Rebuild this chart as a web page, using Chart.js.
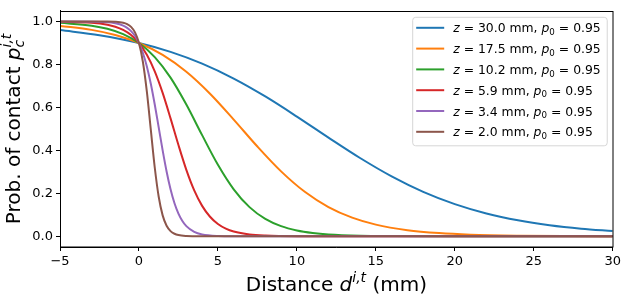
<!DOCTYPE html>
<html><head><meta charset="utf-8">
<script src="https://cdn.jsdelivr.net/npm/chart.js@4"></script>
<style>html,body{margin:0;padding:0;background:#fff}canvas{display:block}</style>
</head><body>
<canvas id="c" width="624" height="296"></canvas>
<script>
// ---- data ----
const zValues = [30.0, 17.5, 10.2, 5.9, 3.4, 2.0];
const p0Value = 0.95;
const xTicks = [-5, 0, 5, 10, 15, 20, 25, 30];
const yTicks = [0.0, 0.2, 0.4, 0.6, 0.8, 1.0];

const dist30 = [-5,-2.5,0,2,4,6,8,10,12,14,16,18,20,22,24,26,28,30];
const prob30 = [0.9601,0.9364,0.9,0.8587,0.8039,0.7344,0.6511,0.5574,0.4594,0.3645,0.2790,0.2070,0.1498,0.1063,0.0743,0.0514,0.0353,0.0241];

const dist175 = [-5,-3,-1.5,0,1.5,3,4.5,6,7.5,9,10.5,12,13.5,15,17,19,21,24,27,30];
const prob175 = [0.9798,0.9612,0.9372,0.9,0.8444,0.7660,0.6638,0.5435,0.4179,0.3022,0.2070,0.1360,0.0867,0.0542,0.0284,0.0147,0.0075,0.0028,0.0010,0.0004];

const dist102 = [-5,-3,-2,-1,0,1,2,3,4,5,6,7,8,9,10,11,12,14,16,20,25,30];
const prob102 = [0.9939,0.9808,0.9662,0.9413,0.9,0.8346,0.7389,0.6135,0.4709,0.3329,0.2187,0.1357,0.0809,0.0470,0.0269,0.0153,0.0086,0.0027,0.0009,0.0001,0,0];

const dist59 = [-5,-3,-2,-1.5,-1,-0.5,0,0.5,1,1.5,2,2.5,3,3.5,4,4.5,5,5.5,6,7,8,10,15,30];
const prob59 = [0.9993,0.9945,0.9852,0.9758,0.9607,0.9369,0.9,0.8452,0.7681,0.6676,0.5491,0.4249,0.3094,0.2137,0.1415,0.0909,0.0572,0.0355,0.0218,0.0081,0.0030,0.0004,0,0];

const dist34 = [-5,-2,-1.5,-1,-0.75,-0.5,-0.25,0,0.25,0.5,0.75,1,1.25,1.5,1.75,2,2.25,2.5,2.75,3,3.5,4,5,6,30];
const prob34 = [1.0,0.9966,0.9918,0.9808,0.9707,0.9554,0.9328,0.9,0.8536,0.7908,0.7101,0.6135,0.5070,0.3999,0.3016,0.2187,0.1535,0.1052,0.0708,0.0470,0.0203,0.0086,0.0015,0.0003,0];

const dist20 = [-5,-2,-1.5,-1,-0.75,-0.5,-0.25,0,0.25,0.5,0.75,1,1.25,1.5,1.75,2,2.25,2.5,3,3.5,4,30];
const prob20 = [1.0,0.9997,0.9987,0.9942,0.9880,0.9752,0.9495,0.9,0.8115,0.6731,0.4962,0.3202,0.1839,0.0973,0.0490,0.0241,0.0117,0.0056,0.0013,0.0003,0,0];

// ---- styling ----
const colors = ['#1f77b4','#ff7f0e','#2ca02c','#d62728','#9467bd','#8c564b'];
const FONT = '"DejaVu Sans", sans-serif';
const TICK_SIZE = 13, LEGEND_SIZE = 12.4, TITLE_SIZE = 20;

const series = [
  {d: dist30, p: prob30}, {d: dist175, p: prob175}, {d: dist102, p: prob102},
  {d: dist59, p: prob59}, {d: dist34, p: prob34}, {d: dist20, p: prob20}
];

const datasets = zValues.map((z, i) => ({
  label: `z = ${z.toFixed(1)} mm, p\u2080 = ${p0Value.toFixed(2)}`,
  data: series[i].d.map((x, j) => ({x: x, y: series[i].p[j]})),
  borderColor: colors[i],
  backgroundColor: colors[i],
  borderWidth: 2,
  pointRadius: 0,
  fill: false,
  cubicInterpolationMode: 'monotone',
  order: zValues.length - i
}));

function fontStr(r, size) {
  const fs = size * (r.s || 1);
  return `${r.it ? 'italic ' : ''}${fs}px ${FONT}`;
}
function runsWidth(ctx, runs, size) {
  let w = 0;
  for (const r of runs) {
    ctx.font = fontStr(r, size);
    if (!r.noAdv) w += ctx.measureText(r.t).width;
  }
  return w;
}
function drawRuns(ctx, runs, x, y, size) {
  let cx = x;
  for (const r of runs) {
    ctx.font = fontStr(r, size);
    ctx.fillText(r.t, cx, y + (r.dy || 0) * size);
    if (!r.noAdv) cx += ctx.measureText(r.t).width;
  }
}

const decorPlugin = {
  id: 'decor',
  afterDraw(chart) {
    const ctx = chart.ctx;
    const a = chart.chartArea;
    ctx.save();
    // frame
    ctx.strokeStyle = '#000';
    ctx.lineWidth = 1;
    ctx.strokeRect(Math.round(a.left) + 0.5, Math.round(a.top) + 0.5,
                   Math.round(a.right - a.left) - 1 + 0.5, Math.round(a.bottom - a.top) - 0.5);
    ctx.fillStyle = '#000';
    ctx.textAlign = 'left';
    ctx.textBaseline = 'alphabetic';

    // x title
    const xRuns = [{t: 'Distance '}, {t: 'd', it: true}, {t: 'i,t', it: true, s: 0.7, dy: -0.42}, {t: ' (mm)'}];
    const xw = runsWidth(ctx, xRuns, TITLE_SIZE);
    drawRuns(ctx, xRuns, (a.left + a.right) / 2 - xw / 2, 290.5, TITLE_SIZE);

    // y title
    const yRuns = [{t: 'Prob. of contact '}, {t: 'p', it: true},
                   {t: 'c', it: true, s: 0.7, dy: 0.22, noAdv: true},
                   {t: 'i,t', it: true, s: 0.7, dy: -0.45}];
    const yw = runsWidth(ctx, yRuns, TITLE_SIZE);
    ctx.save();
    ctx.translate(20, (a.top + a.bottom) / 2);
    ctx.rotate(-Math.PI / 2);
    drawRuns(ctx, yRuns, -yw / 2, 0, TITLE_SIZE);
    ctx.restore();

    // legend
    const legRuns = zValues.map(z => [
      {t: 'z', it: true}, {t: ' = ' + z.toFixed(1) + ' mm, '},
      {t: 'p', it: true}, {t: '0', s: 0.7, dy: 0.22}, {t: ' = ' + p0Value.toFixed(2)}
    ]);
    let tw = 0;
    legRuns.forEach(r => { tw = Math.max(tw, runsWidth(ctx, r, LEGEND_SIZE)); });
    const bw = 4 + 28 + 9 + tw + 6;
    const rowH = 20.8;
    const bh = 11 + rowH * (zValues.length - 1) + 13.5;
    const bx = a.right - 6 - bw;
    const by = a.top + 6;
    ctx.beginPath();
    ctx.roundRect(bx + 0.5, by + 0.5, bw, bh, 3);
    ctx.fillStyle = 'rgba(255,255,255,0.8)';
    ctx.fill();
    ctx.strokeStyle = '#d6d6d6';
    ctx.lineWidth = 1;
    ctx.stroke();
    legRuns.forEach((runs, i) => {
      const cy = by + 11 + i * rowH;
      ctx.beginPath();
      ctx.strokeStyle = colors[i];
      ctx.lineWidth = 2;
      ctx.moveTo(bx + 4, cy);
      ctx.lineTo(bx + 32, cy);
      ctx.stroke();
      ctx.fillStyle = '#000';
      drawRuns(ctx, runs, bx + 41, cy + 4.5, LEGEND_SIZE);
    });
    ctx.restore();
  }
};

new Chart(document.getElementById('c'), {
  type: 'line',
  data: {datasets: datasets},
  options: {
    responsive: false,
    animation: false,
    devicePixelRatio: 1,
    layout: {padding: {left: 0, right: 10, top: 2, bottom: 0}},
    plugins: {legend: {display: false}, tooltip: {enabled: false}},
    scales: {
      x: {
        type: 'linear', min: -5, max: 30,
        afterBuildTicks: ax => { ax.ticks = xTicks.map(v => ({value: v})); },
        afterFit: s => { s.height = 49; },
        ticks: {
          callback: v => v < 0 ? '\u2212' + Math.abs(v) : String(v),
          font: {family: FONT, size: TICK_SIZE}, color: '#000',
          padding: 3, maxRotation: 0, autoSkip: false
        },
        grid: {drawOnChartArea: false, drawTicks: true, tickLength: 4, color: '#000', lineWidth: 1},
        border: {display: true, color: '#000', width: 1}
      },
      y: {
        type: 'linear', min: -0.05, max: 1.05,
        afterBuildTicks: ax => { ax.ticks = yTicks.map(v => ({value: v})); },
        afterFit: s => { s.width = 60; },
        ticks: {
          callback: v => Number(v).toFixed(1),
          font: {family: FONT, size: TICK_SIZE}, color: '#000',
          padding: 3, autoSkip: false
        },
        grid: {drawOnChartArea: false, drawTicks: true, tickLength: 4, color: '#000', lineWidth: 1},
        border: {display: true, color: '#000', width: 1}
      }
    }
  },
  plugins: [decorPlugin]
});
</script>
</body></html>
